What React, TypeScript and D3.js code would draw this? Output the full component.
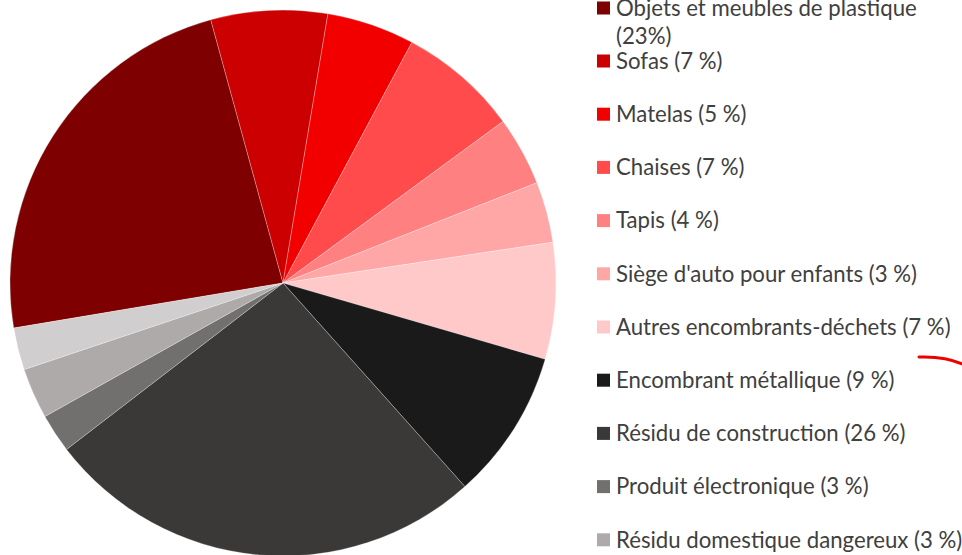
import React from "react";
import * as d3 from "d3";

const categories = [
  "Objets et meubles de plastique",
  "Sofas",
  "Matelas",
  "Chaises",
  "Tapis",
  "Siège d'auto pour enfants",
  "Autres encombrants-déchets",
  "Encombrant métallique",
  "Résidu de construction",
  "Produit électronique",
  "Résidu domestique dangereux",
  "Bois",
];
const sliceValues = [23.4, 6.9, 5.2, 7.1, 4.1, 3.6, 6.9, 8.9, 26.2, 2.3, 3.0, 2.5];
const legendLabels = [
  "(23%)",
  "(7 %)",
  "(5 %)",
  "(7 %)",
  "(4 %)",
  "(3 %)",
  "(7 %)",
  "(9 %)",
  "(26 %)",
  "(3 %)",
  "(3 %)",
  "(3 %)",
];
const colors = [
  "#7f0000",
  "#cc0000",
  "#f20000",
  "#ff4b4b",
  "#ff8080",
  "#ffa6a6",
  "#ffc9c9",
  "#1a1a1a",
  "#3a3938",
  "#72706e",
  "#aeaaa9",
  "#d0cece",
];

export default function App() {
  const W = 962, H = 555;
  const cx = 283, cy = 283, r = 273;
  const startDeg = -99.5;
  const start = (startDeg * Math.PI) / 180;
  const pie = d3
    .pie<number>()
    .sort(null)
    .value((d) => d)
    .startAngle(start)
    .endAngle(start + 2 * Math.PI);
  const arcs = pie(sliceValues);
  const arcGen = d3.arc<d3.PieArcDatum<number>>().innerRadius(0).outerRadius(r);

  const legendX = 597;
  const textX = 616;
  const fontSize = 22.2;
  const firstY = 61;
  const step = 53.2;
  const font = "Lato, 'Liberation Sans', sans-serif";
  const textColor = "#404040";

  return (
    <svg
      width={W}
      height={H}
      style={{ position: "absolute", left: 0, top: 0, background: "#fff" }}
    >
      <g transform={`translate(${cx},${cy})`}>
        {arcs.map((a, i) => (
          <path
            key={i}
            d={arcGen(a) || ""}
            fill={colors[i]}
            stroke="#ffffff"
            strokeOpacity={0.35}
            strokeWidth={0.75}
          />
        ))}
      </g>
      {categories.map((c, i) => {
        if (i === 0) {
          return (
            <g key={i}>
              <rect x={legendX} y={8 - 6.5} width={13} height={13} fill={colors[i]} />
              <text
                x={textX}
                y={8}
                dy="0.35em"
                fontFamily={font}
                fontSize={fontSize}
                fill={textColor}
              >
                {c}
              </text>
              <text
                x={textX}
                y={36}
                dy="0.35em"
                fontFamily={font}
                fontSize={fontSize}
                fill={textColor}
              >
                {legendLabels[i]}
              </text>
            </g>
          );
        }
        const y = firstY + (i - 1) * step;
        return (
          <g key={i}>
            <rect x={legendX} y={y - 6.5} width={13} height={13} fill={colors[i]} />
            <text
              x={textX}
              y={y}
              dy="0.35em"
              fontFamily={font}
              fontSize={fontSize}
              fill={textColor}
            >
              {`${c} ${legendLabels[i]}`}
            </text>
          </g>
        );
      })}
      <path
        d="M919,357 Q945,356 962,364"
        fill="none"
        stroke="#ee0000"
        strokeWidth={3}
        strokeLinecap="round"
      />
    </svg>
  );
}
